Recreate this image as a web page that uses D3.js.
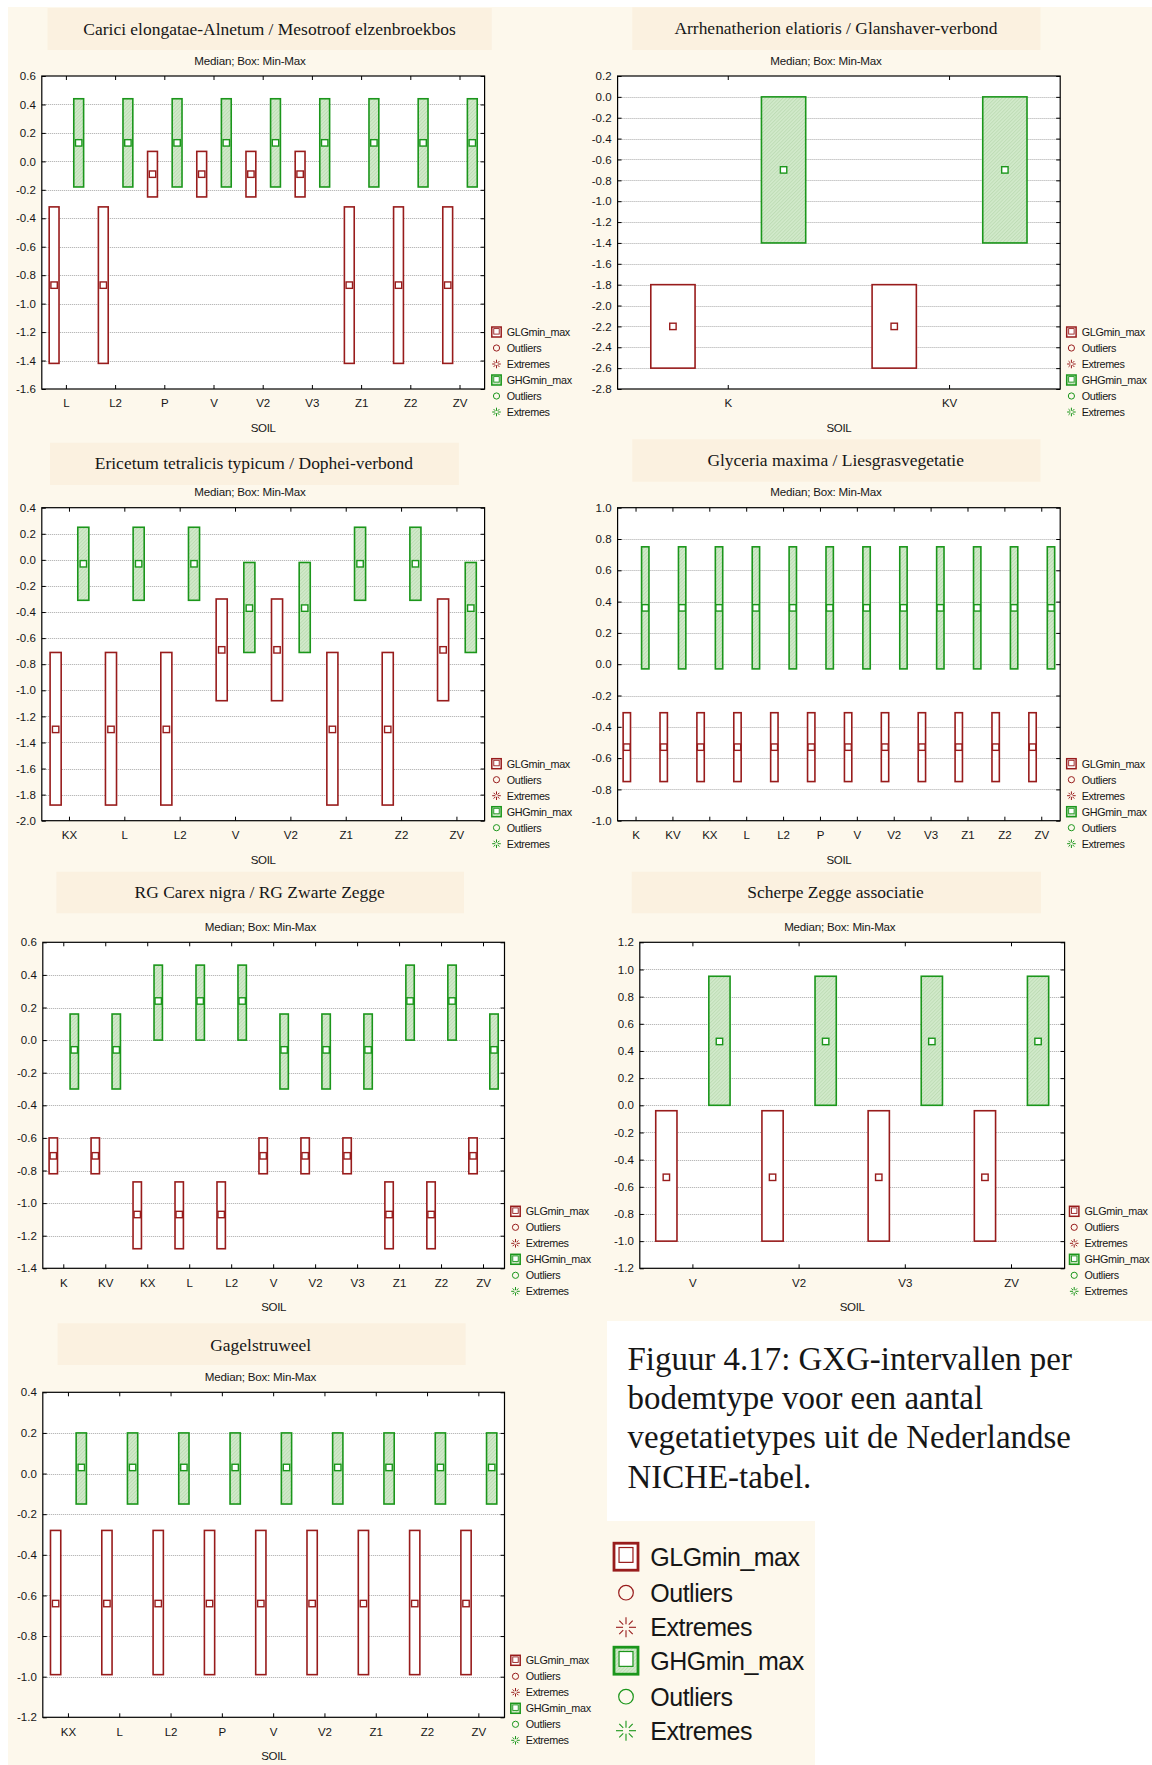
<!DOCTYPE html>
<html><head><meta charset="utf-8">
<script src="https://cdn.jsdelivr.net/npm/d3@7"></script>
<style>html,body{margin:0;padding:0;background:#fff;} svg{display:block}</style>
</head><body><svg id="c" width="1152" height="1765"></svg>
<script>
// ---------------- DATA ----------------
const legendLabels = ["GLGmin_max","Outliers","Extremes","GHGmin_max","Outliers","Extremes"];
const subtitleText = "Median; Box: Min-Max";
const xAxisTitle = "SOIL";
const captionLines = ["Figuur 4.17: GXG-intervallen per","bodemtype voor een aantal","vegetatietypes uit de Nederlandse","NICHE-tabel."];

// Panel 1
const p1Title = "Carici elongatae-Alnetum / Mesotroof elzenbroekbos";
const p1Categories = ["L","L2","P","V","V2","V3","Z1","Z2","ZV"];
const p1GlgMin    = [-1.42,-1.42,-0.25,-0.25,-0.25,-0.25,-1.42,-1.42,-1.42];
const p1GlgMedian = [-0.87,-0.87,-0.09,-0.09,-0.09,-0.09,-0.87,-0.87,-0.87];
const p1GlgMax    = [-0.32,-0.32, 0.07, 0.07, 0.07, 0.07,-0.32,-0.32,-0.32];
const p1GhgMin    = [-0.18,-0.18,-0.18,-0.18,-0.18,-0.18,-0.18,-0.18,-0.18];
const p1GhgMedian = [0.13,0.13,0.13,0.13,0.13,0.13,0.13,0.13,0.13];
const p1GhgMax    = [0.44,0.44,0.44,0.44,0.44,0.44,0.44,0.44,0.44];
const p1YTicks = [0.6,0.4,0.2,0.0,-0.2,-0.4,-0.6,-0.8,-1.0,-1.2,-1.4,-1.6];

// Panel 2
const p2Title = "Arrhenatherion elatioris / Glanshaver-verbond";
const p2Categories = ["K","KV"];
const p2GlgMin    = [-2.6,-2.6];
const p2GlgMedian = [-2.2,-2.2];
const p2GlgMax    = [-1.8,-1.8];
const p2GhgMin    = [-1.4,-1.4];
const p2GhgMedian = [-0.7,-0.7];
const p2GhgMax    = [0.0,0.0];
const p2YTicks = [0.2,0.0,-0.2,-0.4,-0.6,-0.8,-1.0,-1.2,-1.4,-1.6,-1.8,-2.0,-2.2,-2.4,-2.6,-2.8];

// Panel 3
const p3Title = "Ericetum tetralicis typicum / Dophei-verbond";
const p3Categories = ["KX","L","L2","V","V2","Z1","Z2","ZV"];
const p3GlgMin    = [-1.88,-1.88,-1.88,-1.08,-1.08,-1.88,-1.88,-1.08];
const p3GlgMedian = [-1.30,-1.30,-1.30,-0.69,-0.69,-1.30,-1.30,-0.69];
const p3GlgMax    = [-0.71,-0.71,-0.71,-0.30,-0.30,-0.71,-0.71,-0.30];
const p3GhgMin    = [-0.31,-0.31,-0.31,-0.71,-0.71,-0.31,-0.31,-0.71];
const p3GhgMedian = [-0.03,-0.03,-0.03,-0.37,-0.37,-0.03,-0.03,-0.37];
const p3GhgMax    = [0.25,0.25,0.25,-0.02,-0.02,0.25,0.25,-0.02];
const p3YTicks = [0.4,0.2,0.0,-0.2,-0.4,-0.6,-0.8,-1.0,-1.2,-1.4,-1.6,-1.8,-2.0];

// Panel 4
const p4Title = "Glyceria maxima / Liesgrasvegetatie";
const p4Categories = ["K","KV","KX","L","L2","P","V","V2","V3","Z1","Z2","ZV"];
const p4GlgMin    = [-0.75,-0.75,-0.75,-0.75,-0.75,-0.75,-0.75,-0.75,-0.75,-0.75,-0.75,-0.75];
const p4GlgMedian = [-0.53,-0.53,-0.53,-0.53,-0.53,-0.53,-0.53,-0.53,-0.53,-0.53,-0.53,-0.53];
const p4GlgMax    = [-0.31,-0.31,-0.31,-0.31,-0.31,-0.31,-0.31,-0.31,-0.31,-0.31,-0.31,-0.31];
const p4GhgMin    = [-0.03,-0.03,-0.03,-0.03,-0.03,-0.03,-0.03,-0.03,-0.03,-0.03,-0.03,-0.03];
const p4GhgMedian = [0.36,0.36,0.36,0.36,0.36,0.36,0.36,0.36,0.36,0.36,0.36,0.36];
const p4GhgMax    = [0.75,0.75,0.75,0.75,0.75,0.75,0.75,0.75,0.75,0.75,0.75,0.75];
const p4YTicks = [1.0,0.8,0.6,0.4,0.2,0.0,-0.2,-0.4,-0.6,-0.8,-1.0];

// Panel 5
const p5Title = "RG Carex nigra / RG Zwarte Zegge";
const p5Categories = ["K","KV","KX","L","L2","V","V2","V3","Z1","Z2","ZV"];
const p5GlgMin    = [-0.82,-0.82,-1.28,-1.28,-1.28,-0.82,-0.82,-0.82,-1.28,-1.28,-0.82];
const p5GlgMedian = [-0.71,-0.71,-1.07,-1.07,-1.07,-0.71,-0.71,-0.71,-1.07,-1.07,-0.71];
const p5GlgMax    = [-0.60,-0.60,-0.87,-0.87,-0.87,-0.60,-0.60,-0.60,-0.87,-0.87,-0.60];
const p5GhgMin    = [-0.30,-0.30,0.00,0.00,0.00,-0.30,-0.30,-0.30,0.00,0.00,-0.30];
const p5GhgMedian = [-0.06,-0.06,0.24,0.24,0.24,-0.06,-0.06,-0.06,0.24,0.24,-0.06];
const p5GhgMax    = [0.16,0.16,0.46,0.46,0.46,0.16,0.16,0.16,0.46,0.46,0.16];
const p5YTicks = [0.6,0.4,0.2,0.0,-0.2,-0.4,-0.6,-0.8,-1.0,-1.2,-1.4];

// Panel 6
const p6Title = "Scherpe Zegge associatie";
const p6Categories = ["V","V2","V3","ZV"];
const p6GlgMin    = [-1.0,-1.0,-1.0,-1.0];
const p6GlgMedian = [-0.53,-0.53,-0.53,-0.53];
const p6GlgMax    = [-0.04,-0.04,-0.04,-0.04];
const p6GhgMin    = [0.0,0.0,0.0,0.0];
const p6GhgMedian = [0.47,0.47,0.47,0.47];
const p6GhgMax    = [0.95,0.95,0.95,0.95];
const p6YTicks = [1.2,1.0,0.8,0.6,0.4,0.2,0.0,-0.2,-0.4,-0.6,-0.8,-1.0,-1.2];

// Panel 7
const p7Title = "Gagelstruweel";
const p7Categories = ["KX","L","L2","P","V","V2","Z1","Z2","ZV"];
const p7GlgMin    = [-0.99,-0.99,-0.99,-0.99,-0.99,-0.99,-0.99,-0.99,-0.99];
const p7GlgMedian = [-0.64,-0.64,-0.64,-0.64,-0.64,-0.64,-0.64,-0.64,-0.64];
const p7GlgMax    = [-0.28,-0.28,-0.28,-0.28,-0.28,-0.28,-0.28,-0.28,-0.28];
const p7GhgMin    = [-0.15,-0.15,-0.15,-0.15,-0.15,-0.15,-0.15,-0.15,-0.15];
const p7GhgMedian = [0.03,0.03,0.03,0.03,0.03,0.03,0.03,0.03,0.03];
const p7GhgMax    = [0.20,0.20,0.20,0.20,0.20,0.20,0.20,0.20,0.20];
const p7YTicks = [0.4,0.2,0.0,-0.2,-0.4,-0.6,-0.8,-1.0,-1.2];

// ---------------- STYLE / LAYOUT ----------------
const SERIF = "'Liberation Serif','Times New Roman',serif";
const SANS = "'Liberation Sans',Arial,sans-serif";
const RED = "#981c1c", GREEN = "#1b961b";
const CREAM = "#fdf8ec", TITLEBG = "#fbf1e0";
const TEXT = "#161616";
const fmt = v => (Math.abs(v) < 1e-9 ? 0 : v).toFixed(1);

const panels = [
  {title:p1Title, cats:p1Categories, glg:[p1GlgMin,p1GlgMedian,p1GlgMax], ghg:[p1GhgMin,p1GhgMedian,p1GhgMax], ticks:p1YTicks,
   plot:[41.8,484.6,76,389], tbox:[47.5,491.8,8,50], tcx:269.6, tbase:34.5, tw:375, scx:250, lx:491.8},
  {title:p2Title, cats:p2Categories, glg:[p2GlgMin,p2GlgMedian,p2GlgMax], ghg:[p2GhgMin,p2GhgMedian,p2GhgMax], ticks:p2YTicks,
   plot:[617.6,1060.2,76,389], tbox:[632.3,1040.5,7.3,50], tcx:836, tbase:34.3, tw:329, scx:826, lx:1066.7},
  {title:p3Title, cats:p3Categories, glg:[p3GlgMin,p3GlgMedian,p3GlgMax], ghg:[p3GhgMin,p3GhgMedian,p3GhgMax], ticks:p3YTicks,
   plot:[41.8,484.6,507.7,820.7], tbox:[50,458.9,442.7,485], tcx:253.9, tbase:468.5, tw:320.6, scx:250, lx:491.8},
  {title:p4Title, cats:p4Categories, glg:[p4GlgMin,p4GlgMedian,p4GlgMax], ghg:[p4GhgMin,p4GhgMedian,p4GhgMax], ticks:p4YTicks,
   plot:[617.6,1060.2,507.7,820.7], tbox:[632.3,1040.5,439.3,481.7], tcx:835.7, tbase:466, tw:256, scx:826, lx:1066.7},
  {title:p5Title, cats:p5Categories, glg:[p5GlgMin,p5GlgMedian,p5GlgMax], ghg:[p5GhgMin,p5GhgMedian,p5GhgMax], ticks:p5YTicks,
   plot:[42.8,504.5,942.3,1268.3], tbox:[56.4,464,871.7,913.3], tcx:259.7, tbase:898, tw:248.6, scx:260.5, lx:510.8},
  {title:p6Title, cats:p6Categories, glg:[p6GlgMin,p6GlgMedian,p6GlgMax], ghg:[p6GhgMin,p6GhgMedian,p6GhgMax], ticks:p6YTicks,
   plot:[639.8,1064.6,942.3,1268.3], tbox:[631.7,1041,871.7,913.3], tcx:835.5, tbase:898, tw:175.3, scx:839.8, lx:1069.5},
  {title:p7Title, cats:p7Categories, glg:[p7GlgMin,p7GlgMedian,p7GlgMax], ghg:[p7GhgMin,p7GhgMedian,p7GhgMax], ticks:p7YTicks,
   plot:[42.8,504.5,1392.3,1717.3], tbox:[57.6,465.6,1323.3,1365], tcx:260.7, tbase:1350.7, tw:101, scx:260.5, lx:510.8}
];

// ---------------- DRAW ----------------
const svg = d3.select("#c");
const defs = svg.append("defs");
const pat = defs.append("pattern").attr("id","hatch").attr("patternUnits","userSpaceOnUse")
  .attr("width",2.5).attr("height",2.5).attr("patternTransform","rotate(45)");
pat.append("rect").attr("width",2.5).attr("height",2.5).attr("fill","#d2eacb");
pat.append("line").attr("x1",0.5).attr("y1",0).attr("x2",0.5).attr("y2",2.5).attr("stroke","#bddcb4").attr("stroke-width",0.9);

// page backgrounds
svg.append("rect").attr("width",1152).attr("height",1765).attr("fill","#fff");
svg.append("rect").attr("x",8).attr("y",7).attr("width",1144).attr("height",1758).attr("fill",CREAM);
svg.append("rect").attr("x",607).attr("y",1321).attr("width",545).attr("height",200).attr("fill","#fff");
svg.append("rect").attr("x",815).attr("y",1521).attr("width",337).attr("height",244).attr("fill","#fff");

function measure(sel){ return sel.node().getComputedTextLength(); }

// compute a common title font size
const tmp = svg.append("text").attr("font-family",SERIF).attr("font-size",20);
let fsList = panels.map(p => { tmp.text(p.title); return 20 * p.tw / measure(tmp); });
tmp.remove();
fsList.sort((a,b)=>a-b);
const titleFs = d3.mean(fsList.slice(1, fsList.length-1));

function star(g, cx, cy, r0, r1, color, sw){
  const dirs = [[0,1],[0,-1],[1,0],[-1,0]];
  dirs.forEach(d => g.append("line").attr("x1",cx+d[0]*r0).attr("y1",cy+d[1]*r0).attr("x2",cx+d[0]*r1).attr("y2",cy+d[1]*r1)
    .attr("stroke",color).attr("stroke-width",sw));
  const k = Math.SQRT1_2;
  [[1,1],[1,-1],[-1,1],[-1,-1]].forEach(d => g.append("line")
    .attr("x1",cx+d[0]*k*r0*1.3).attr("y1",cy+d[1]*k*r0*1.3).attr("x2",cx+d[0]*k*r1*0.95).attr("y2",cy+d[1]*k*r1*0.95)
    .attr("stroke",color).attr("stroke-width",sw));
}

function legendSymbol(g, i, x, cy, big){
  const color = i < 3 ? RED : GREEN;
  const kind = i % 3;
  if (kind === 0){
    const w = big ? 24 : 9.4, h = big ? 27 : 10;
    g.append("rect").attr("x",x).attr("y",cy-h/2).attr("width",w).attr("height",h)
      .attr("fill", i < 3 ? "#fff" : "url(#hatch)").attr("stroke",color).attr("stroke-width", big ? 2.8 : 1.5);
    const iw = w*0.58, ih = h*0.55;
    g.append("rect").attr("x",x+(w-iw)/2).attr("y",cy-h/2+h*0.16).attr("width",iw).attr("height",ih)
      .attr("fill","#fff").attr("stroke",color).attr("stroke-width", big ? 1.2 : 0.9);
  } else if (kind === 1){
    g.append("circle").attr("cx",x+(big?12:4.7)).attr("cy",cy).attr("r", big ? 7.3 : 3.1)
      .attr("fill","none").attr("stroke",color).attr("stroke-width", big ? 1.2 : 1);
  } else {
    star(g, x+(big?12:4.7), cy, big?3:1.2, big?10:4.3, color, big?1.1:1);
  }
}

panels.forEach(p => {
  const g = svg.append("g");
  const [x0,x1,y0,y1] = p.plot;
  // title box + title
  g.append("rect").attr("x",p.tbox[0]).attr("y",p.tbox[2]).attr("width",p.tbox[1]-p.tbox[0]).attr("height",p.tbox[3]-p.tbox[2]).attr("fill",TITLEBG);
  g.append("text").attr("x",p.tcx).attr("y",p.tbase).attr("text-anchor","middle")
    .attr("font-family",SERIF).attr("font-size",titleFs).attr("fill",TEXT).text(p.title);
  // subtitle
  g.append("text").attr("x",p.scx).attr("y",y0-11.5).attr("text-anchor","middle")
    .attr("font-family",SANS).attr("font-size",11.6).attr("letter-spacing",-0.2).attr("fill",TEXT).text(subtitleText);

  const x = d3.scaleBand().domain(p.cats).range([x0,x1]).padding(0);
  const yExt = d3.extent(p.ticks);
  const y = d3.scaleLinear().domain(yExt).range([y1,y0]);
  const bw = x.bandwidth();
  const boxW = bw*0.2;

  // plot bg
  g.append("rect").attr("x",x0).attr("y",y0).attr("width",x1-x0).attr("height",y1-y0).attr("fill","#fff");
  // gridlines
  g.append("g").selectAll("line").data(p.ticks.filter(t => t > yExt[0]+1e-9 && t < yExt[1]-1e-9)).join("line")
    .attr("x1",x0).attr("x2",x1).attr("y1",d=>Math.round(y(d))+0.5).attr("y2",d=>Math.round(y(d))+0.5)
    .attr("stroke","#a8a8a8").attr("stroke-width",1).attr("stroke-dasharray","1,1");

  // boxes
  const series = [
    {vals:p.glg, off:-bw/4, stroke:RED, fill:"#fff"},
    {vals:p.ghg, off: bw/4, stroke:GREEN, fill:"url(#hatch)"}
  ];
  series.forEach(s => {
    const [mins, meds, maxs] = s.vals;
    const bg = g.append("g");
    bg.selectAll("rect.box").data(p.cats).join("rect").attr("class","box")
      .attr("x",(c)=>x(c)+bw/2+s.off-boxW/2).attr("width",boxW)
      .attr("y",(c,i)=>y(maxs[i])).attr("height",(c,i)=>y(mins[i])-y(maxs[i]))
      .attr("fill",s.fill).attr("stroke",s.stroke).attr("stroke-width",1.6);
    bg.selectAll("rect.med").data(p.cats).join("rect").attr("class","med")
      .attr("x",(c)=>x(c)+bw/2+s.off-3.2).attr("width",6.4)
      .attr("y",(c,i)=>y(meds[i])-3.2).attr("height",6.4)
      .attr("fill","#fff").attr("stroke",s.stroke).attr("stroke-width",1.4);
  });

  // axes
  const fs = 11.5;
  const styleAxis = a => { a.select(".domain").remove(); a.selectAll("line").attr("stroke","#000");
    a.selectAll("text").attr("font-family",SANS).attr("font-size",fs).attr("fill",TEXT); a.attr("font-size",null).attr("font-family",null); };
  g.append("g").attr("transform",`translate(${x0},0)`)
    .call(d3.axisLeft(y).tickValues(p.ticks).tickFormat(fmt).tickSizeInner(-4).tickSizeOuter(0).tickPadding(6)).call(styleAxis);
  g.append("g").attr("transform",`translate(${x1},0)`)
    .call(d3.axisRight(y).tickValues(p.ticks).tickFormat("").tickSizeInner(-4).tickSizeOuter(0)).call(styleAxis);
  g.append("g").attr("transform",`translate(0,${y1})`)
    .call(d3.axisBottom(x).tickSizeInner(-4).tickSizeOuter(0).tickPadding(18.3 - 0.71*fs)).call(styleAxis);
  g.append("g").attr("transform",`translate(0,${y0})`)
    .call(d3.axisTop(x).tickFormat("").tickSizeInner(-4).tickSizeOuter(0)).call(styleAxis);

  // frame
  g.append("rect").attr("x",x0).attr("y",y0).attr("width",x1-x0).attr("height",y1-y0)
    .attr("fill","none").attr("stroke","#000").attr("stroke-width",1.2);

  // x axis title
  g.append("text").attr("x",(x0+x1)/2).attr("y",y1+43).attr("text-anchor","middle")
    .attr("font-family",SANS).attr("font-size",11.5).attr("letter-spacing",-0.3).attr("fill",TEXT).text(xAxisTitle);

  // legend
  const lg = g.append("g");
  legendLabels.forEach((lab,i) => {
    const cy = y1 - 57 + i*16;
    legendSymbol(lg, i, p.lx, cy, false);
    lg.append("text").attr("x",p.lx+15).attr("y",cy+4).attr("font-family",SANS).attr("font-size",10.8)
      .attr("letter-spacing",-0.35).attr("fill",TEXT).text(lab);
  });
});

// caption
const capG = svg.append("g");
const capBase = [1370,1409,1448,1487.5];
const capTmp = capG.append("text").attr("font-family",SERIF).attr("font-size",30).text(captionLines[2]);
const capFs = 30 * 443.5 / measure(capTmp);
capTmp.remove();
captionLines.forEach((l,i) => capG.append("text").attr("x",627.5).attr("y",capBase[i])
  .attr("font-family",SERIF).attr("font-size",capFs).attr("fill",TEXT).text(l));

// big legend
const bl = svg.append("g");
const bigRows = [1556.7,1592.7,1627.3,1660.7,1696.7,1730.7];
legendLabels.forEach((lab,i) => {
  legendSymbol(bl, i, 614, bigRows[i], true);
  bl.append("text").attr("x",650.3).attr("y",bigRows[i]+9).attr("font-family",SANS).attr("font-size",25)
    .attr("letter-spacing",-0.5).attr("fill",TEXT).text(lab);
});
</script></body></html>
